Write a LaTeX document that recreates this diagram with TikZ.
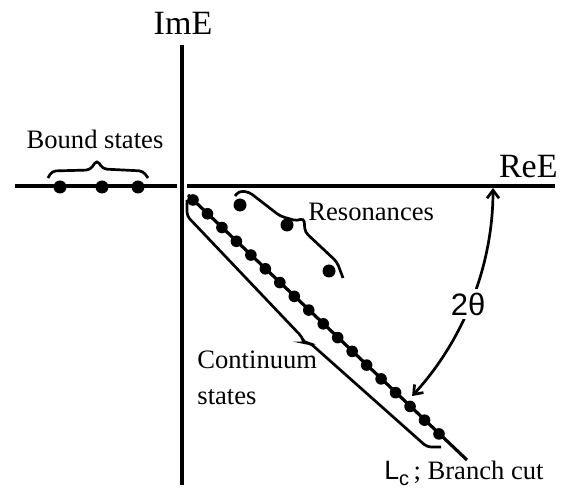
\documentclass[tikz,border=0pt]{standalone}
\usepackage{fontspec}
\setmainfont{Liberation Serif}
\newfontfamily\sansfnt{Liberation Sans}
\usetikzlibrary{arrows.meta}

\begin{document}
\begin{tikzpicture}[
      x=0.5pt,y=-0.5pt,
      axis/.style={line width=1.7pt},
      cutline/.style={line width=1.6pt},
      dot/.style={circle,fill,inner sep=0pt,minimum size=5.8pt},
      bigdot/.style={dot,minimum size=6.5pt},
      bracepen/.style={line width=1.35pt,rounded corners=2pt},
      angarrow/.style={{Straight Barb[length=4pt,width=6pt]}-{Straight Barb[length=4pt,width=6pt]},
                       line width=1.35pt},
      lbl/.style={font=\fontsize{13.3}{16}\selectfont,inner sep=0pt},
      axlbl/.style={font=\fontsize{17}{20}\selectfont,inner sep=0pt}
    ]
    \useasboundingbox (0,0) rectangle (573,491);

    % axes
    \coordinate (reL)  at (15,186);
    \coordinate (reM1) at (177,186);
    \coordinate (reM2) at (187,186);
    \coordinate (reR)  at (555,186);
    \coordinate (imT)  at (182,45);
    \coordinate (imB)  at (182,485);
    \draw[axis] (reL) -- (reM1);
    \draw[axis] (reM2) -- (reR);
    \draw[axis] (imT) -- (imB);
    \node[axlbl] (imE) at (183,23) {ImE};
    \node[axlbl,anchor=south east] (reE) at (558,178) {ReE};

    % bound states
    \foreach \x [count=\i] in {60,102,138}
      \node[bigdot] (b\i) at (\x,187) {};
    \node[lbl] (bound) at (95,139) {Bound states};
    \draw[bracepen] (48,178) -- (52,171) -- (90,170) -- (97,160) -- (103,169) -- (143,171) -- (148,178);

    % branch cut and continuum
    \coordinate (cutA) at (188,195);
    \coordinate (cutB) at (467,460);
    \draw[cutline] (cutA) -- (cutB);
    \foreach \i in {0,...,17}
      \node[dot] (c\i) at ({193+14.47*\i},{200+13.76*\i}) {};
    \draw[bracepen] (187,200) -- (187,216) -- (302,337) -- (304,343) -- (310,343) -- (427,447) -- (441,447);
    \node[lbl,align=left,anchor=west] (cont) at (197,378) {Continuum\\[2pt]states};
    \node[lbl,anchor=base] (cut) at (464,480)
          {{\sansfnt L\raisebox{-0.4ex}{\fontsize{10}{10}\selectfont c}}\,; Branch cut};

    % resonances
    \node[bigdot] (r1) at (240,205) {};
    \node[bigdot] (r2) at (287,225) {};
    \node[bigdot] (r3) at (329,271) {};
    \draw[bracepen] (235,196) -- (239,191) -- (249,192) -- (280,216) -- (297,221) -- (304,218)
                    -- (305,232) -- (337,262) -- (343,278);
    \node[lbl,anchor=west] (res) at (308,212) {Resonances};

    % rotation angle
    \coordinate (angTop) at (493,188);
    \draw[angarrow] (angTop) arc[start angle=0,end angle=42.5,radius=308];
    \node[font=\sansfnt\fontsize{15.5}{18}\selectfont,fill=white,inner sep=2pt] (theta) at (468,304) {2θ};

  \end{tikzpicture}
\end{document}
